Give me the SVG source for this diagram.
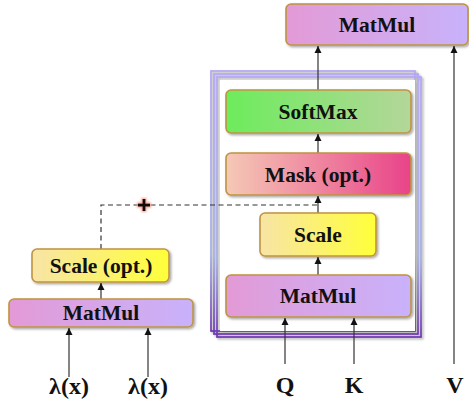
<svg xmlns="http://www.w3.org/2000/svg" width="469" height="405" viewBox="0 0 469 405">
<defs>
<linearGradient id="gMat" x1="0" y1="0" x2="1" y2="0"><stop offset="0" stop-color="#e39ad6"/><stop offset="1" stop-color="#c8b2fb"/></linearGradient>
<linearGradient id="gSoft" x1="0" y1="0" x2="1" y2="0"><stop offset="0" stop-color="#6cec5c"/><stop offset="1" stop-color="#b4d69a"/></linearGradient>
<linearGradient id="gMask" x1="0" y1="0" x2="1" y2="0"><stop offset="0" stop-color="#f5c9b6"/><stop offset="1" stop-color="#e94389"/></linearGradient>
<linearGradient id="gScale" x1="0" y1="0" x2="1" y2="0"><stop offset="0" stop-color="#f8e4a6"/><stop offset="1" stop-color="#ffff3a"/></linearGradient>
<linearGradient id="gFrame" x1="0" y1="0" x2="0" y2="1"><stop offset="0" stop-color="#b3a4f4"/><stop offset="0.7" stop-color="#a2aee2"/><stop offset="1" stop-color="#6c36b0"/></linearGradient>
<filter id="sh" x="-10%" y="-10%" width="130%" height="140%"><feDropShadow dx="1.5" dy="1.5" stdDeviation="1.2" flood-color="#000" flood-opacity="0.35"/></filter>
<filter id="glow" x="-50%" y="-50%" width="200%" height="200%"><feMorphology operator="dilate" radius="1" in="SourceAlpha" result="d"/><feFlood flood-color="#f4a090"/><feComposite in2="d" operator="in" result="c"/><feGaussianBlur in="c" stdDeviation="0.8" result="b"/><feMerge><feMergeNode in="b"/><feMergeNode in="SourceGraphic"/></feMerge></filter>
<marker id="arr" viewBox="0 0 10 10" refX="10" refY="5" markerWidth="6" markerHeight="6" orient="auto"><path d="M0,0 L10,5 L0,10 z" fill="#111"/></marker>
</defs>
<style>
.box{stroke:#bf9440;stroke-width:1.6;filter:url(#sh)}
.t{font-family:"Liberation Serif","Times New Roman",serif;font-weight:bold;font-size:21.5px;text-anchor:middle;fill:#111}
.lbl{font-family:"Liberation Serif","Times New Roman",serif;font-weight:bold;font-size:24px;text-anchor:middle;fill:#111}
.ln{stroke:#333;stroke-width:1.2;fill:none}
.fr{fill:none;stroke:url(#gFrame);stroke-width:1.7}
</style>
<rect width="469" height="405" fill="#fff"/>
<g id="frame" filter="url(#sh)">
<rect x="211" y="71" width="204" height="260" fill="#fff" class="fr"/>
<rect x="214" y="74" width="204" height="260" class="fr"/>
<rect x="217" y="77" width="204" height="260" class="fr"/>
<rect x="220" y="80" width="195" height="251" fill="#fff" stroke="none"/>
</g>
<g id="connectors">
<line class="ln" x1="318" y1="90" x2="318" y2="46" marker-end="url(#arr)"/>
<line class="ln" x1="318" y1="153" x2="318" y2="134" marker-end="url(#arr)"/>
<line class="ln" x1="318" y1="213" x2="318" y2="196" marker-end="url(#arr)"/>
<line class="ln" x1="318" y1="275" x2="318" y2="257" marker-end="url(#arr)"/>
<line class="ln" x1="285" y1="364" x2="285" y2="318" marker-end="url(#arr)"/>
<line class="ln" x1="354" y1="364" x2="354" y2="318" marker-end="url(#arr)"/>
<line class="ln" x1="454" y1="364" x2="454" y2="46" marker-end="url(#arr)"/>
<line class="ln" x1="101" y1="299" x2="101" y2="283" marker-end="url(#arr)"/>
<line class="ln" x1="69" y1="377" x2="69" y2="328" marker-end="url(#arr)"/>
<line class="ln" x1="148" y1="377" x2="148" y2="328" marker-end="url(#arr)"/>
<path class="ln" d="M101,249 V205 H318" stroke-dasharray="5,3.5" stroke="#222" stroke-width="1.3"/>
</g>
<g id="plus" filter="url(#glow)">
<rect x="138" y="203.5" width="12" height="3.2" fill="#111"/>
<rect x="142.4" y="199" width="3.2" height="12" fill="#111"/>
</g>
<g id="matmul-top"><rect class="box" x="286" y="4" width="182" height="41" rx="5" fill="url(#gMat)"/><text class="t" x="377" y="32">MatMul</text></g>
<g id="softmax"><rect class="box" x="226" y="90" width="185" height="43" rx="5" fill="url(#gSoft)"/><text class="t" x="318" y="119">SoftMax</text></g>
<g id="mask"><rect class="box" x="226" y="153" width="185" height="42" rx="5" fill="url(#gMask)"/><text class="t" x="318" y="182">Mask (opt.)</text></g>
<g id="scale"><rect class="box" x="260" y="213" width="116" height="43" rx="5" fill="url(#gScale)"/><text class="t" x="318" y="242">Scale</text></g>
<g id="matmul-inner"><rect class="box" x="226" y="275" width="185" height="42" rx="5" fill="url(#gMat)"/><text class="t" x="318" y="303">MatMul</text></g>
<g id="scale-opt"><rect class="box" x="32" y="249" width="137" height="33" rx="5" fill="url(#gScale)"/><text class="t" x="101" y="273">Scale (opt.)</text></g>
<g id="matmul-left"><rect class="box" x="9" y="299" width="184" height="28" rx="5" fill="url(#gMat)"/><text class="t" x="101" y="320">MatMul</text></g>
<g id="labels">
<text class="lbl" x="69" y="394">λ(x)</text>
<text class="lbl" x="148" y="394">λ(x)</text>
<text class="lbl" x="285" y="393">Q</text>
<text class="lbl" x="354" y="393">K</text>
<text class="lbl" x="455" y="393">V</text>
</g>
</svg>
